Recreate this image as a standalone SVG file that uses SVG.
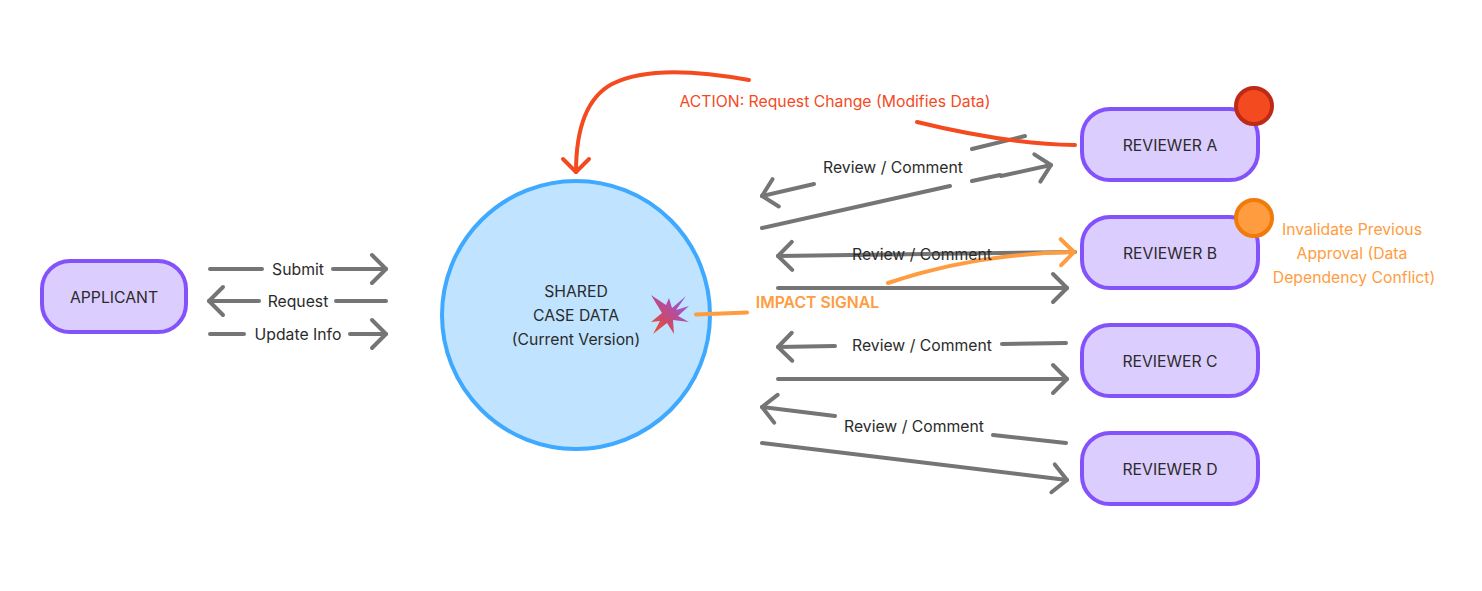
<svg xmlns="http://www.w3.org/2000/svg" width="1482" height="591" viewBox="0 0 1482 591">
<style>
text{font-family:Inter,"Liberation Sans",sans-serif;font-size:15.75px;fill:#2b2b2b;text-anchor:middle;dominant-baseline:central}
.n{fill:#dccdff;stroke:#8452fa;stroke-width:4}
.c{fill:none;stroke:#757575;stroke-width:4;stroke-linecap:round;stroke-linejoin:round}
.h{marker-end:url(#g)}
.r{fill:none;stroke:#f44a1f;stroke-width:4;stroke-linecap:round}
.o{fill:none;stroke:#ff9c40;stroke-width:4;stroke-linecap:round}
.tr{fill:#f44a1f}.to{fill:#ff9c40}
</style>
<defs>
<marker id="g" markerUnits="userSpaceOnUse" markerWidth="40" markerHeight="40" refX="20" refY="20" orient="auto"><path d="M6 6L20 20L6 34" fill="none" stroke="#757575" stroke-width="4" stroke-linecap="round" stroke-linejoin="round"/></marker>
<marker id="mr" markerUnits="userSpaceOnUse" markerWidth="40" markerHeight="40" refX="20" refY="20" orient="auto"><path d="M7 7L20 20L7 33" fill="none" stroke="#f44a1f" stroke-width="4" stroke-linecap="round" stroke-linejoin="round"/></marker>
<marker id="mo" markerUnits="userSpaceOnUse" markerWidth="40" markerHeight="40" refX="20" refY="20" orient="auto"><path d="M7 7L20 20L7 33" fill="none" stroke="#ff9c40" stroke-width="4" stroke-linecap="round" stroke-linejoin="round"/></marker>
<linearGradient id="sg" x1="0" y1="1" x2="1" y2="0"><stop offset="0" stop-color="#f4511e"/><stop offset="0.45" stop-color="#c24a80"/><stop offset="1" stop-color="#8b5cf6"/></linearGradient>
</defs>
<g id="connectors">
<path class="c" d="M210 269H262"/><path class="c h" d="M333 269H386"/>
<path class="c" d="M386 301H336"/><path class="c h" d="M259 301H209"/>
<path class="c" d="M210 334H244"/><path class="c h" d="M350 334H386"/>
<path class="c" d="M1025 136L972 149"/><path class="c h" d="M814 184L762 196"/>
<path class="c" d="M762 228L950 186"/><path class="c h" d="M972 181L1000 175L1001 176L1051 165"/>
<path class="c h" d="M1075 252L778 256"/><path class="c h" d="M778 288H1067"/>
<path class="c" d="M1066 343L1002 344"/><path class="c h" d="M835 346L778 347"/>
<path class="c h" d="M778 379H1067"/>
<path class="c" d="M1066 443L993 435"/><path class="c h" d="M835 416L762 407"/>
<path class="c h" d="M762 443L1067 480"/>
<path class="r" style="marker-end:url(#mr)" d="M749 80C700 71 645 67 612 84C586 98 576 130 576 172"/>
<path class="r" d="M917 122C970 135 1020 144 1075 145"/>
<path class="o" style="marker-end:url(#mo)" d="M888 283C950 262 1010 253 1074 252"/>
</g>
<g id="shared-case-data"><circle cx="576" cy="315" r="134" fill="#c0e3ff" stroke="#3fa9ff" stroke-width="4"/>
<text x="576" y="291">SHARED</text><text x="576" y="315">CASE DATA</text><text x="576" y="339">(Current Version)</text></g>
<path id="impact-line" class="o" d="M696 314.500L747 312.500"/>
<polygon id="impact-star" fill="url(#sg)" points="651,295 666,305 669,298 672,308 686,296 676,310 689,306 678,316 689,322 673,320 674,334 667,323 653,334 660,321 651,322 662,313"/>
<g id="applicant"><rect class="n" x="42" y="261" width="144" height="71" rx="28"/><text x="114" y="297">APPLICANT</text></g>
<g id="reviewer-a"><rect class="n" x="1082" y="109" width="176" height="71" rx="28"/><text x="1170" y="145">REVIEWER A</text></g>
<g id="reviewer-b"><rect class="n" x="1082" y="217" width="176" height="71" rx="28"/><text x="1170" y="253">REVIEWER B</text></g>
<g id="reviewer-c"><rect class="n" x="1082" y="325" width="176" height="71" rx="28"/><text x="1170" y="361">REVIEWER C</text></g>
<g id="reviewer-d"><rect class="n" x="1082" y="433" width="176" height="71" rx="28"/><text x="1170" y="469">REVIEWER D</text></g>
<circle id="status-a" cx="1254" cy="106" r="18" fill="#f44a1f" stroke="#bf2a18" stroke-width="4"/>
<circle id="status-b" cx="1254" cy="218" r="18" fill="#ff9c40" stroke="#f07a0a" stroke-width="4"/>
<g id="labels">
<text x="298" y="269">Submit</text><text x="298" y="301">Request</text><text x="298" y="334">Update Info</text>
<text x="893" y="167">Review / Comment</text><text x="922" y="254">Review / Comment</text><text x="922" y="345">Review / Comment</text><text x="914" y="426">Review / Comment</text>
<text class="tr" x="835" y="101">ACTION: Request Change (Modifies Data)</text>
<text class="to" x="817.500" y="302" style="font-weight:600">IMPACT SIGNAL</text>
<text class="to" x="1352" y="229">Invalidate Previous</text><text class="to" x="1352" y="253">Approval (Data</text><text class="to" x="1354" y="277">Dependency Conflict)</text>
</g>
</svg>
